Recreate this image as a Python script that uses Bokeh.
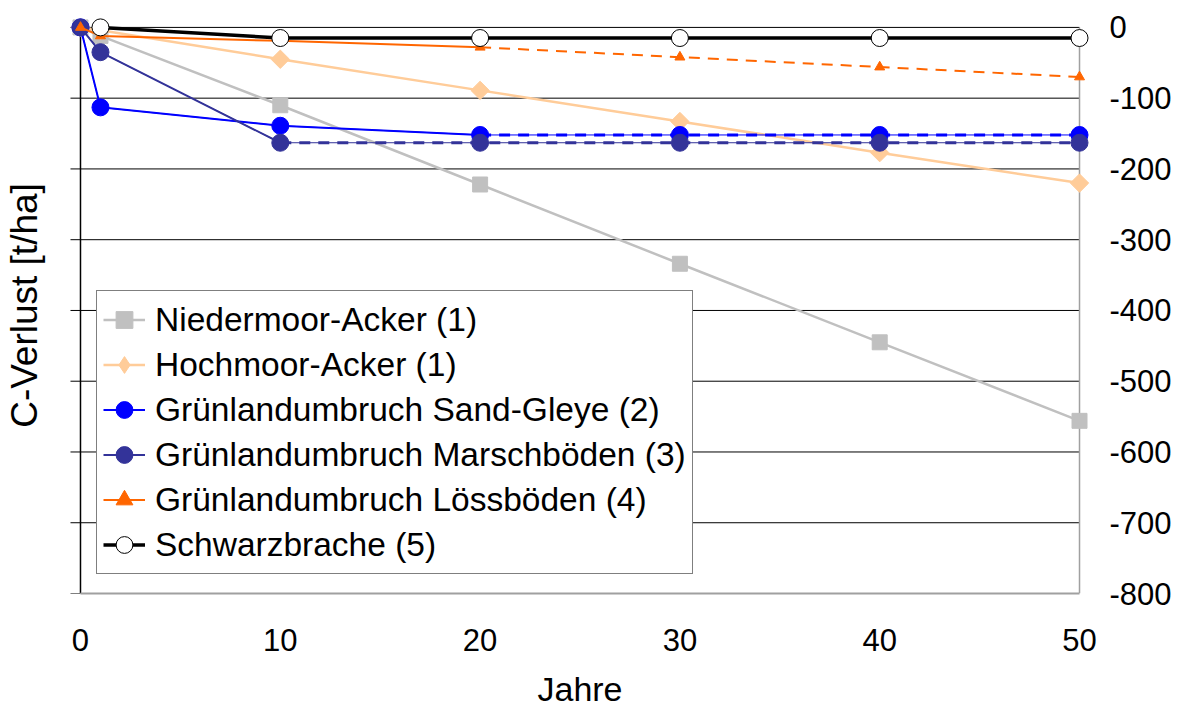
import math
from bokeh.plotting import figure
from bokeh.models import Range1d, LinearAxis, FixedTicker, Legend, LegendItem
from bokeh.embed import file_html
from bokeh.resources import INLINE

# ---- data ----
years = [0, 1, 10, 20, 30, 40, 50]
niedermoor = [0, -12, -110, -222, -334, -445, -556]
hochmoor = [0, -4, -45, -89, -133, -177, -220]
sand_gleye = [0, -113, -139, -152, -152, -152, -152]
marschboeden = [0, -35, -163, -163, -163, -163, -163]
loessboeden = [0, -12, -19, -28, -42, -56, -70]
years_sb = [1, 10, 20, 30, 40, 50]
schwarzbrache = [0, -15, -15, -15, -15, -15]

x_ticks = [0, 10, 20, 30, 40, 50]
y_ticks = [-800, -700, -600, -500, -400, -300, -200, -100, 0]
grid_ticks = [-700, -600, -500, -400, -300, -200, -100, 0]

labels = [
    "Niedermoor-Acker (1)",
    "Hochmoor-Acker (1)",
    "Grünlandumbruch Sand-Gleye (2)",
    "Grünlandumbruch Marschböden (3)",
    "Grünlandumbruch Lössböden (4)",
    "Schwarzbrache (5)",
]
x_title = "Jahre"
y_title = "C-Verlust [t/ha]"

# ---- style ----
FONT = "Liberation Sans"
DASH = "11 8"
PAD_X = 0.6      # room (in x units) so edge markers are not clipped
PAD_Y = 14       # room (in y units) above the 0 line
TICK_LEN = 0.5   # left tick length in x units (~10 px)
NAN = float("nan")

x0, x1 = x_ticks[0], x_ticks[-1]
y0, y1 = y_ticks[0], y_ticks[-1]

p = figure(
    width=1174, height=713,
    x_range=Range1d(x0 - PAD_X, x1 + PAD_X), y_range=Range1d(y0, y1 + PAD_Y),
    y_axis_location="right",
    output_backend="svg", toolbar_location=None,
    min_border_left=68, min_border_top=17, min_border_right=82, min_border_bottom=120,
)
p.outline_line_color = None
p.background_fill_color = "white"
p.border_fill_color = "white"
p.xgrid.visible = False
p.ygrid.visible = False

# bottom axis
xa = p.xaxis[0]
xa.ticker = FixedTicker(ticks=x_ticks)
xa.bounds = (x0, x1)
xa.axis_line_color = "#A0A0A0"
xa.axis_line_width = 2
xa.major_tick_line_color = None
xa.minor_tick_line_color = None
xa.major_tick_out = 0
xa.major_tick_in = 0
xa.major_label_standoff = 35
xa.major_label_text_font = FONT
xa.major_label_text_font_size = "31px"
xa.major_label_text_color = "black"
xa.axis_label = x_title
xa.axis_label_text_font = FONT
xa.axis_label_text_font_size = "34px"
xa.axis_label_text_font_style = "normal"
xa.axis_label_text_color = "black"
xa.axis_label_standoff = 16

# right axis (labels only)
ra = p.yaxis[0]
ra.ticker = FixedTicker(ticks=y_ticks)
ra.axis_line_color = None
ra.major_tick_line_color = None
ra.minor_tick_line_color = None
ra.major_tick_out = 0
ra.major_tick_in = 0
ra.major_label_standoff = 18
ra.major_label_overrides = {t: str(t) for t in y_ticks}
ra.major_label_text_font = FONT
ra.major_label_text_font_size = "31px"
ra.major_label_text_color = "black"

# left axis (title only)
la = LinearAxis(ticker=FixedTicker(ticks=[]))
la.axis_line_color = None
la.major_tick_line_color = None
la.minor_tick_line_color = None
la.major_tick_out = 0
la.major_tick_in = 0
la.major_label_standoff = 0
la.axis_label = y_title
la.axis_label_text_font = FONT
la.axis_label_text_font_size = "37px"
la.axis_label_text_font_style = "normal"
la.axis_label_text_color = "black"
la.axis_label_standoff = 24
p.add_layout(la, "left")

# grid lines, plot-area axis lines and left ticks
p.segment(x0=[x0] * len(grid_ticks), x1=[x1] * len(grid_ticks), y0=grid_ticks, y1=grid_ticks,
          line_color="black", line_width=1)
p.segment(x0=[x1], x1=[x1], y0=[y0], y1=[y1], line_color="#A0A0A0", line_width=1.5)
p.segment(x0=[x0 - TICK_LEN] * len(y_ticks), x1=[x0] * len(y_ticks), y0=y_ticks, y1=y_ticks,
          line_color="black", line_width=1)
p.segment(x0=[x0], x1=[x0], y0=[y0], y1=[y1], line_color="black", line_width=1.5)

# ---- series ----
# 1 Niedermoor
l1 = p.line(years, niedermoor, line_color="#C0C0C0", line_width=2.5)
m1 = p.scatter(years, niedermoor, marker="square", size=15, fill_color="#C0C0C0", line_color="#C0C0C0")

# 2 Hochmoor (rotated squares in plot, diamond proxy for the legend)
l2 = p.line(years, hochmoor, line_color="#FFCC99", line_width=2.5)
p.scatter(years, hochmoor, marker="square", angle=math.pi / 4, size=13,
          fill_color="#FFCC99", line_color="#FFCC99")
m2 = p.scatter(x=[NAN], y=[NAN], marker="diamond", size=18, fill_color="#FFCC99", line_color="#FFCC99")

# 3 Sand-Gleye (solid to year 20, then dashed)
k = 4
p.line(years, sand_gleye, line_color="#0000FF", line_width=1)
l3 = p.line(years[:k], sand_gleye[:k], line_color="#0000FF", line_width=2)
p.line(years[k - 1:], sand_gleye[k - 1:], line_color="#0000FF", line_width=3, line_dash=DASH)
m3 = p.scatter(years, sand_gleye, marker="circle", size=17, fill_color="#0000FF", line_color="#0000FF")

# 4 Marschböden (solid to year 10, then dashed)
k = 3
p.line(years, marschboeden, line_color="#333399", line_width=1)
l4 = p.line(years[:k], marschboeden[:k], line_color="#333399", line_width=2)
p.line(years[k - 1:], marschboeden[k - 1:], line_color="#333399", line_width=3, line_dash=DASH)
m4 = p.scatter(years, marschboeden, marker="circle", size=17, fill_color="#333399", line_color="#333399")

# 5 Lössböden (solid to year 20, then dashed)
k = 4
l5 = p.line(years[:k], loessboeden[:k], line_color="#FF6600", line_width=2)
p.line(years[k - 1:], loessboeden[k - 1:], line_color="#FF6600", line_width=2, line_dash=DASH)
m5 = p.scatter(years, loessboeden, marker="triangle", size=10, fill_color="#FF6600", line_color="#FF6600")

# 6 Schwarzbrache
l6 = p.line(years_sb, schwarzbrache, line_color="black", line_width=3.5)
m6 = p.scatter(years_sb, schwarzbrache, marker="circle", size=17, fill_color="white",
               line_color="black", line_width=1)

items = [
    LegendItem(label=labels[0], renderers=[l1, m1]),
    LegendItem(label=labels[1], renderers=[l2, m2]),
    LegendItem(label=labels[2], renderers=[l3, m3]),
    LegendItem(label=labels[3], renderers=[l4, m4]),
    LegendItem(label=labels[4], renderers=[l5, m5]),
    LegendItem(label=labels[5], renderers=[l6, m6]),
]
legend = Legend(
    items=items, location=(28, 19),
    label_text_font=FONT, label_text_font_size="33.5px", label_text_color="black",
    label_height=45, glyph_height=45, glyph_width=42, label_standoff=10,
    spacing=0, padding=6, margin=0,
    border_line_color="black", border_line_width=1,
    background_fill_color="white", background_fill_alpha=1,
)
p.add_layout(legend)

open("out.html", "w").write(file_html(p, INLINE))
